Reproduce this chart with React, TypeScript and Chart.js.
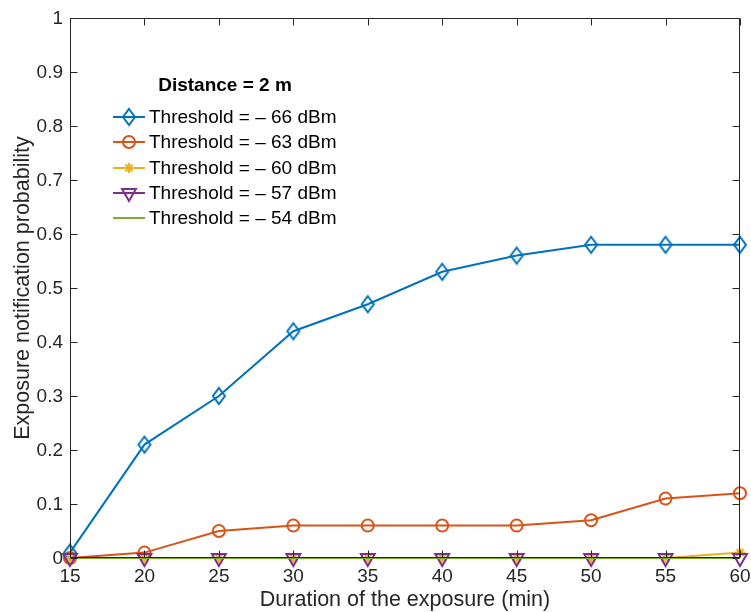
import React, { useEffect, useRef } from "react";
import { Chart, registerables } from "chart.js";

Chart.register(...registerables);

// ---------- data ----------
const durations = [15, 20, 25, 30, 35, 40, 45, 50, 55, 60];
const thr66 = [0.01, 0.21, 0.3, 0.42, 0.47, 0.53, 0.56, 0.58, 0.58, 0.58];
const thr63 = [0, 0.01, 0.05, 0.06, 0.06, 0.06, 0.06, 0.07, 0.11, 0.12];
const thr60 = [0, 0, 0, 0, 0, 0, 0, 0, 0, 0.01];
const thr57 = [0, 0, 0, 0, 0, 0, 0, 0, 0, 0];
const thr54 = [0, 0, 0, 0, 0, 0, 0, 0, 0, 0];
const seriesLabels = [
  "Threshold = – 66 dBm",
  "Threshold = – 63 dBm",
  "Threshold = – 60 dBm",
  "Threshold = – 57 dBm",
  "Threshold = – 54 dBm",
];
const xTicks = [15, 20, 25, 30, 35, 40, 45, 50, 55, 60];
const xTickLabels = ["15", "20", "25", "30", "35", "40", "45", "50", "55", "60"];
const yTicks = [0, 0.1, 0.2, 0.3, 0.4, 0.5, 0.6, 0.7, 0.8, 0.9, 1];
const yTickLabels = ["0", "0.1", "0.2", "0.3", "0.4", "0.5", "0.6", "0.7", "0.8", "0.9", "1"];
const legendTitle = "Distance = 2 m";
const xTitle = "Duration of the exposure (min)";
const yTitle = "Exposure notification probability";

const COLORS = ["#0072BD", "#D95319", "#EDB120", "#7E2F8E", "#77AC30"];
const MARKERS = ["diamond", "circle", "star", "triangleDown", "none"];
const FONT = "'Liberation Sans', Arial, Helvetica, sans-serif";
const AXIS = "#262626";

function makeDiamond(color: string): HTMLCanvasElement {
  const c = document.createElement("canvas");
  c.width = 16;
  c.height = 22;
  const g = c.getContext("2d")!;
  g.strokeStyle = color;
  g.lineWidth = 2;
  g.beginPath();
  g.moveTo(8, 3);
  g.lineTo(14, 11);
  g.lineTo(8, 19);
  g.lineTo(2, 11);
  g.closePath();
  g.stroke();
  return c;
}

function drawMarker(ctx: CanvasRenderingContext2D, kind: string, x: number, y: number, color: string, diamond: HTMLCanvasElement) {
  ctx.save();
  ctx.strokeStyle = color;
  ctx.lineWidth = 2;
  ctx.beginPath();
  if (kind === "diamond") {
    ctx.drawImage(diamond, x - diamond.width / 2, y - diamond.height / 2);
  } else if (kind === "circle") {
    ctx.arc(x, y, 6, 0, Math.PI * 2);
    ctx.stroke();
  } else if (kind === "star") {
    const r = 5;
    for (let i = 0; i < 4; i++) {
      const a = (i * Math.PI) / 4;
      ctx.moveTo(x - Math.cos(a) * r, y - Math.sin(a) * r);
      ctx.lineTo(x + Math.cos(a) * r, y + Math.sin(a) * r);
    }
    ctx.stroke();
  } else if (kind === "triangleDown") {
    const r = 8;
    ctx.moveTo(x, y + r);
    ctx.lineTo(x - r * 0.866, y - r / 2);
    ctx.lineTo(x + r * 0.866, y - r / 2);
    ctx.closePath();
    ctx.stroke();
  }
  ctx.restore();
}

export default function App() {
  const ref = useRef<HTMLCanvasElement | null>(null);

  useEffect(() => {
    if (!ref.current) return;
    const diamond = makeDiamond(COLORS[0]);
    const seriesValues = [thr66, thr63, thr60, thr57, thr54];

    const datasets = seriesValues.map((vals, i) => {
      const m = MARKERS[i];
      let pointStyle: any = "circle";
      let pointRadius = 6;
      let pointRotation = 0;
      if (m === "diamond") { pointStyle = diamond; pointRadius = 8; }
      if (m === "star") { pointStyle = "star"; pointRadius = 5; }
      if (m === "triangleDown") { pointStyle = "triangle"; pointRadius = 8; pointRotation = 180; }
      if (m === "none") { pointRadius = 0; }
      return {
        label: seriesLabels[i],
        data: durations.map((d, k) => ({ x: d, y: vals[k] })),
        borderColor: COLORS[i],
        backgroundColor: COLORS[i],
        borderWidth: 2,
        pointStyle,
        pointRadius,
        pointRotation,
        pointBorderColor: COLORS[i],
        pointBackgroundColor: "rgba(0,0,0,0)",
        pointBorderWidth: 2,
        tension: 0,
        clip: false as any,
        order: 4 - i,
      };
    });

    const axesPlugin = {
      id: "matlabAxes",
      beforeDatasetsDraw(chart: any) {
        const ctx = chart.ctx as CanvasRenderingContext2D;
        const a = chart.chartArea;
        ctx.save();
        ctx.fillStyle = "#ffffff";
        ctx.fillRect(a.left, a.top, a.right - a.left, a.bottom - a.top);
        ctx.restore();
      },
      afterDatasetsDraw(chart: any) {
        const ctx = chart.ctx as CanvasRenderingContext2D;
        const a = chart.chartArea;
        const xs = chart.scales.x;
        const ys = chart.scales.y;
        const L = Math.round(a.left) + 0.5;
        const R = Math.round(a.right) - 0.5;
        const T = Math.round(a.top) + 0.5;
        const B = Math.round(a.bottom) - 0.5;
        const tl = 7;
        ctx.save();
        ctx.strokeStyle = AXIS;
        ctx.lineWidth = 1;
        ctx.beginPath();
        ctx.rect(L, T, R - L, B - T);
        ctx.stroke();
        ctx.beginPath();
        xTicks.forEach((v) => {
          const px = Math.round(xs.getPixelForValue(v)) + 0.5;
          ctx.moveTo(px, B);
          ctx.lineTo(px, B - tl);
          ctx.moveTo(px, T);
          ctx.lineTo(px, T + tl);
        });
        yTicks.forEach((v) => {
          const py = Math.round(ys.getPixelForValue(v)) + 0.5;
          ctx.moveTo(L, py);
          ctx.lineTo(L + tl, py);
          ctx.moveTo(R, py);
          ctx.lineTo(R - tl, py);
        });
        ctx.stroke();

        ctx.fillStyle = AXIS;
        ctx.font = `19px ${FONT}`;
        ctx.textAlign = "center";
        ctx.textBaseline = "middle";
        xTicks.forEach((v, i) => {
          ctx.fillText(xTickLabels[i], xs.getPixelForValue(v), a.bottom + 19);
        });
        ctx.textAlign = "right";
        yTicks.forEach((v, i) => {
          ctx.fillText(yTickLabels[i], a.left - 7, ys.getPixelForValue(v) + 1);
        });

        ctx.font = `21.5px ${FONT}`;
        ctx.textAlign = "center";
        ctx.fillText(xTitle, (a.left + a.right) / 2, a.bottom + 42);
        ctx.save();
        ctx.translate(23, (a.top + a.bottom) / 2);
        ctx.rotate(-Math.PI / 2);
        ctx.fillText(yTitle, 0, 0);
        ctx.restore();

        // legend
        ctx.font = `bold 19px ${FONT}`;
        ctx.fillStyle = "#000000";
        ctx.textAlign = "center";
        ctx.fillText(legendTitle, 225, 86);
        ctx.font = `19px ${FONT}`;
        ctx.textAlign = "left";
        const rows = [117, 142, 168, 193, 218];
        seriesLabels.forEach((lab, i) => {
          const y = rows[i];
          ctx.strokeStyle = COLORS[i];
          ctx.lineWidth = 2;
          ctx.beginPath();
          ctx.moveTo(113, y);
          ctx.lineTo(145, y);
          ctx.stroke();
          drawMarker(ctx, MARKERS[i], 129, y, COLORS[i], diamond);
          ctx.fillStyle = "#000000";
          ctx.fillText(lab, 149, y + 1);
        });
        ctx.restore();
      },
    };

    const chart = new Chart(ref.current, {
      type: "line",
      data: { datasets: datasets as any },
      options: {
        animation: false,
        responsive: false,
        devicePixelRatio: 1,
        layout: { padding: { left: 70, right: 11, top: 18, bottom: 54 } },
        plugins: { legend: { display: false }, tooltip: { enabled: false } },
        scales: {
          x: { type: "linear", min: 15, max: 60, display: false },
          y: { type: "linear", min: 0, max: 1, display: false },
        },
      },
      plugins: [axesPlugin],
    });
    return () => chart.destroy();
  }, []);

  return (
    <div style={{ position: "absolute", left: 0, top: 0, width: 751, height: 612, background: "#fff" }}>
      <canvas ref={ref} width={751} height={612} style={{ width: 751, height: 612 }} />
    </div>
  );
}
